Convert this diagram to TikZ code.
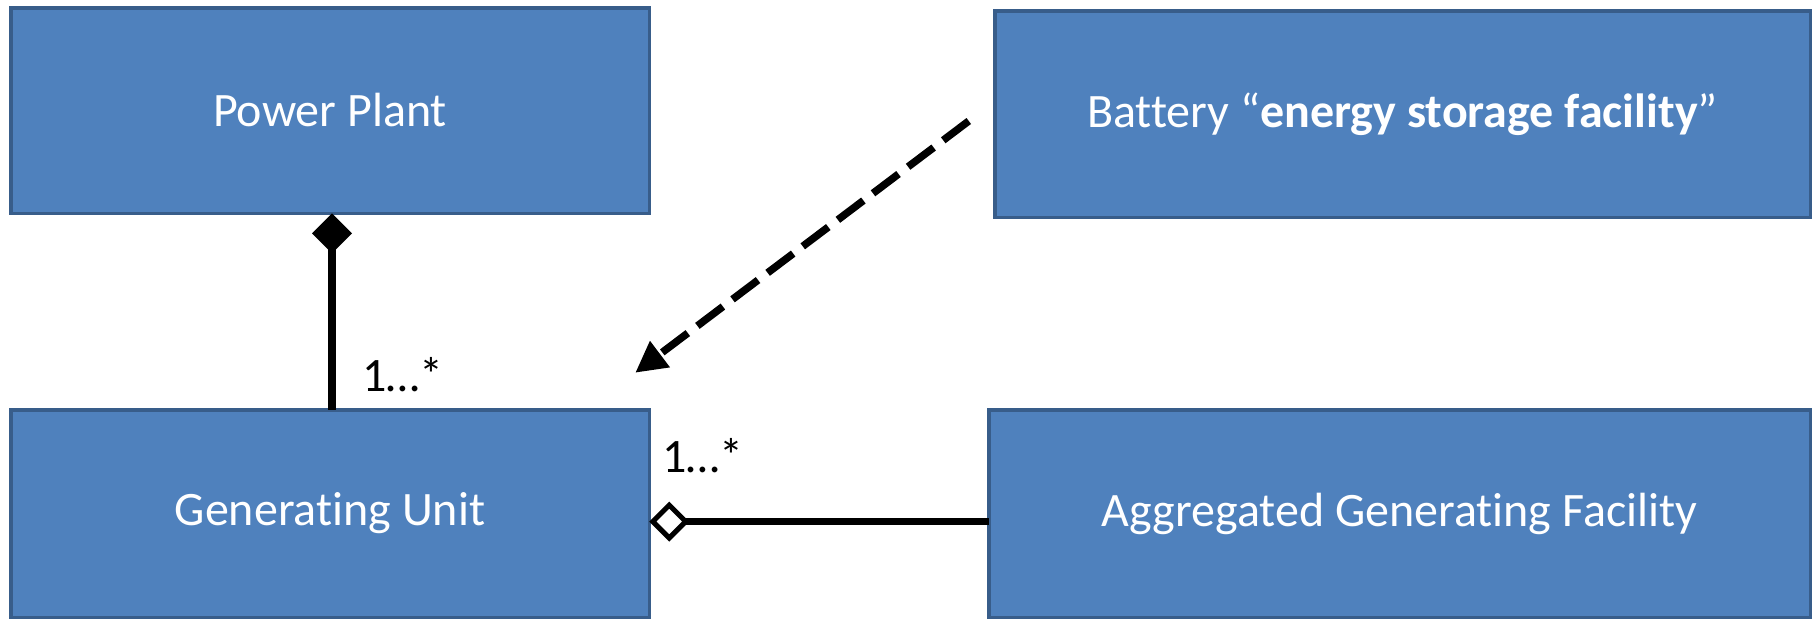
\documentclass[tikz,border=0pt]{standalone}
\usepackage{fontspec}
\setmainfont{Carlito}[Ligatures=NoCommon]
\usetikzlibrary{arrows.meta}
\definecolor{boxfill}{HTML}{4F81BD}
\definecolor{boxline}{HTML}{385D8A}
\begin{document}
\begin{tikzpicture}[x=1pt,y=-1pt,
  classbox/.style={draw=boxline, fill=boxfill, line width=3.5pt, text=white,
    font=\fontsize{48}{56}\selectfont, inner sep=0pt, outer sep=0pt},
  mult/.style={font=\fontsize{48}{56}\selectfont, inner sep=0pt, anchor=base west},
  comp/.style={line width=7.5pt, {Diamond[length=40pt,width=40pt,line width=0pt]}-},
  aggr/.style={line width=7pt, {Diamond[open,length=40pt,width=40pt,line width=5pt,fill=white]}-},
  dep/.style={line width=7.5pt, dash pattern=on 32pt off 12pt, -{Triangle[length=31pt,width=31pt]}}]
\useasboundingbox (0,0) rectangle (1814,619);
\node[classbox, minimum width=638.5pt, minimum height=205.5pt] (PP) at (330,110.5) {Power Plant};
\node[classbox, minimum width=815.5pt, minimum height=206.5pt] (BAT) at (1402.5,114) {Battery “\textbf{energy storage facility}”};
\node[classbox, minimum width=638.5pt, minimum height=207.5pt] (GU) at (330,513.5) {Generating Unit};
\node[classbox, minimum width=821.5pt, minimum height=207.5pt] (AGF) at (1399.5,513.5) {Aggregated Generating Facility};
\coordinate (depstart) at ([xshift=-26pt,yshift=-7pt]BAT.west);
\coordinate (depend) at ([xshift=-14pt,yshift=37pt]GU.north east);
\draw[comp] ([xshift=2pt]PP.south) -- ([xshift=2pt]GU.north);
\draw[aggr] ([yshift=-8pt]GU.east) -- ([yshift=-8pt]AGF.west);
\draw[dep] (depstart) -- (depend);
\node[mult] (m1) at (362,391) {1…*};
\node[mult] (m2) at (662,472) {1…*};
\end{tikzpicture}
\end{document}
